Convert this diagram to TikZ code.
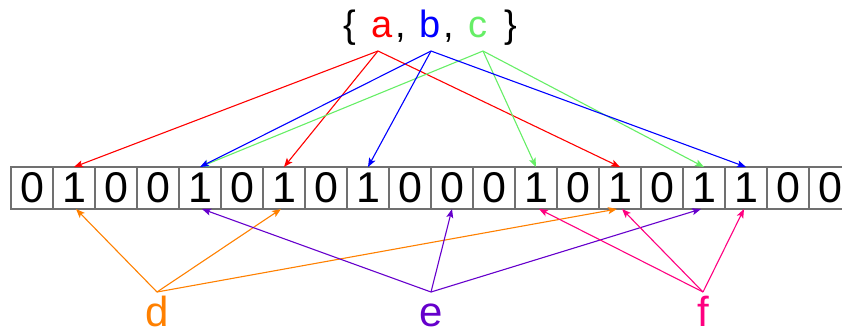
\documentclass[tikz,border=0pt]{standalone}
\usepackage{fontspec}
\setmainfont{Liberation Sans}
\usetikzlibrary{arrows.meta}
\definecolor{cA}{RGB}{255,0,0}
\definecolor{cB}{RGB}{0,0,255}
\definecolor{cC}{RGB}{102,238,102}
\definecolor{cD}{RGB}{255,128,0}
\definecolor{cE}{RGB}{102,0,204}
\definecolor{cF}{RGB}{255,0,128}
\definecolor{cellgray}{RGB}{112,112,112}
\begin{document}
\begin{tikzpicture}[x=1pt,y=-1pt,
  cell/.style={draw=cellgray,line width=1.6pt,minimum width=42pt,minimum height=42pt,
    inner sep=0pt,outer sep=0pt,font=\fontsize{43}{43}\selectfont},
  toplbl/.style={anchor=base,inner sep=0pt,font=\fontsize{38}{38}\selectfont},
  botlbl/.style={anchor=base,inner sep=0pt,font=\fontsize{42}{42}\selectfont},
  arr/.style={line width=1.1pt,-{Stealth[length=9pt,width=7pt,inset=2pt]}}]
\useasboundingbox (0,0) rectangle (842,332);
\foreach \v [count=\i from 0] in {0,1,0,0,1,0,1,0,1,0,0,0,1,0,1,0,1,1,0,0}
  \node[cell] (c\i) at ({32+42*\i},188) {\v};
% top set
\node[toplbl] (lb) at (350,37) {\{};
\node[toplbl,text=cA] (a) at (382,37) {a};
\node[toplbl] (k1) at (401,37) {,};
\node[toplbl,text=cB] (b) at (430,37) {b};
\node[toplbl] (k2) at (449,37) {,};
\node[toplbl,text=cC] (c) at (478,37) {c};
\node[toplbl] (rb) at (511,37) {\}};
% bottom labels
\node[botlbl,text=cD] (d) at (157,326) {d};
\node[botlbl,text=cE] (e) at (431,326) {e};
\node[botlbl,text=cF] (f) at (703,326) {f};
% sources
\coordinate (as) at (378,51);
\coordinate (bs) at (431,51);
\coordinate (cs) at (483,51);
\coordinate (ds) at (157,292);
\coordinate (es) at (431,292);
\coordinate (fs) at (703,292);
% top arrows
\draw[arr,cA] (as) -- (c1.north);
\draw[arr,cA] (as) -- (c6.north);
\draw[arr,cA] (as) -- (c14.north);
\draw[arr,cC] (cs) -- (c4.north);
\draw[arr,cC] (cs) -- (c12.north);
\draw[arr,cC] (cs) -- (c16.north);
\draw[arr,cB] (bs) -- (c4.north);
\draw[arr,cB] (bs) -- (c8.north);
\draw[arr,cB] (bs) -- (c17.north);
% bottom arrows
\draw[arr,cD] (ds) -- ([xshift=2pt]c1.south);
\draw[arr,cD] (ds) -- ([xshift=-3pt]c6.south);
\draw[arr,cD] (ds) -- ([xshift=-3pt]c14.south);
\draw[arr,cE] (es) -- ([xshift=2pt]c4.south);
\draw[arr,cE] (es) -- (c10.south);
\draw[arr,cE] (es) -- ([xshift=-3pt]c16.south);
\draw[arr,cF] (fs) -- ([xshift=3pt]c12.south);
\draw[arr,cF] (fs) -- ([xshift=2pt]c14.south);
\draw[arr,cF] (fs) -- ([xshift=-2pt]c17.south);
\end{tikzpicture}
\end{document}
